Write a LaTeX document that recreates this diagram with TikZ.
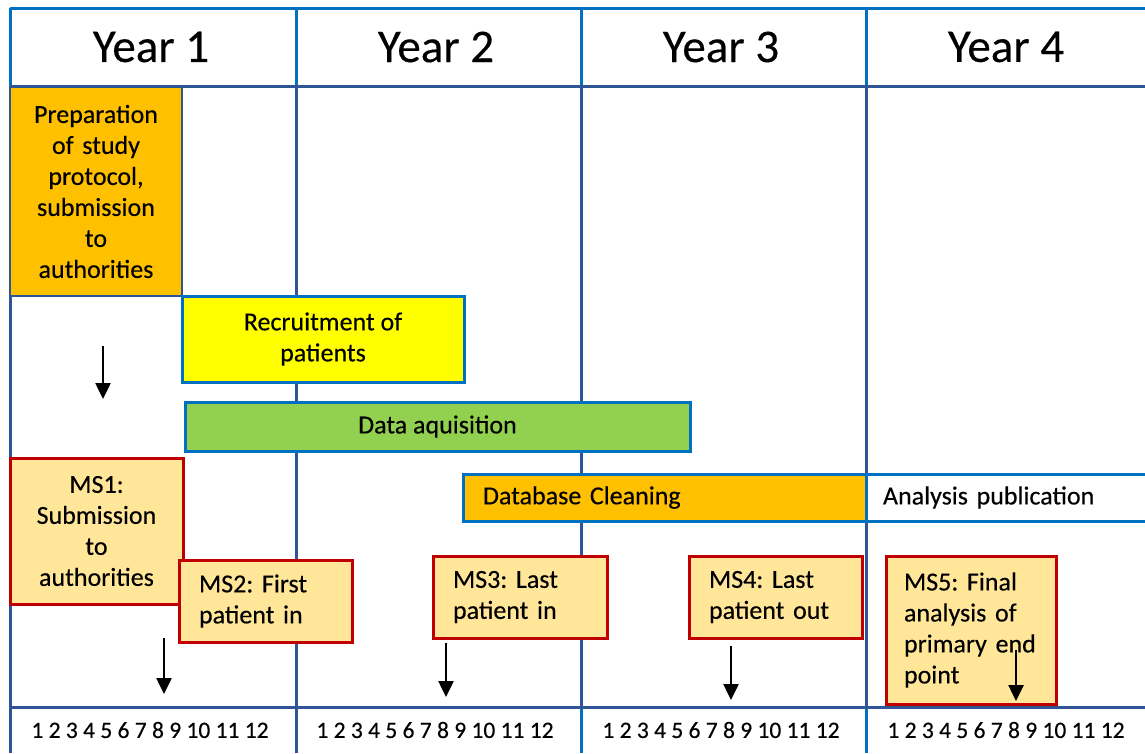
\documentclass[tikz,border=0pt]{standalone}
\usepackage{fontspec}
\setmainfont{Carlito}[FakeBold=0.3]
\usetikzlibrary{arrows.meta}
\definecolor{hdrblue}{HTML}{0070C0}
\definecolor{gridblue}{HTML}{2F5597}
\definecolor{orangefill}{HTML}{FFC000}
\definecolor{yellowfill}{HTML}{FFFF00}
\definecolor{greenfill}{HTML}{92D050}
\definecolor{msfill}{HTML}{FFE699}
\definecolor{msred}{HTML}{C00000}
\newcommand\myBody{\fontsize{26}{31}\selectfont\frenchspacing}
\newcommand\myHead{\fontsize{47}{52}\selectfont}
\newcommand\myNum{\fontsize{23.5}{26}\selectfont}
\begin{document}
\begin{tikzpicture}[x=1pt,y=-1pt,
  hdrline/.style={draw=hdrblue, line width=3pt},
  gridline/.style={draw=gridblue, line width=3pt},
  bar/.style={draw=hdrblue, line width=3pt, inner sep=0pt, font=\myBody},
  ms/.style={draw=msred, fill=msfill, line width=3pt, inner ysep=0pt, inner xsep=20pt, font=\myBody},
  yearlabel/.style={font=\myHead, inner sep=0pt},
  numlabel/.style={font=\myNum, inner sep=0pt},
  msarrow/.style={line width=2.5pt, -{Triangle[width=15pt,length=16pt]}}]
\useasboundingbox (0,0) rectangle (1145,753);
\clip (0,0) rectangle (1145,753);
\fill[white] (0,0) rectangle (1145,753);

% grid
\draw[hdrline] (10,8) -- (1150,8);
\foreach \x in {10,296,581,866} {
  \draw[hdrline] (\x,8) -- (\x,86);
  \draw[gridline] (\x,86) -- (\x,707);
}
\draw[gridline] (10,707) -- (10,753);
\draw[gridline] (296,707) -- (296,753);
\draw[hdrline] (581,707) -- (581,753);
\draw[hdrline] (866,707) -- (866,753);
\draw[gridline] (10,86) -- (1150,86);
\draw[gridline] (10,707) -- (1150,707);

% header
\node[yearlabel] (y1) at (151,47) {Year 1};
\node[yearlabel] (y2) at (436,47) {Year 2};
\node[yearlabel] (y3) at (721,47) {Year 3};
\node[yearlabel] (y4) at (1006,47) {Year 4};

% months
\node[numlabel] (m1) at (150,730) {1 2 3 4 5 6 7 8 9 10 11 12};
\node[numlabel] (m2) at (435,730) {1 2 3 4 5 6 7 8 9 10 11 12};
\node[numlabel] (m3) at (721,730) {1 2 3 4 5 6 7 8 9 10 11 12};
\node[numlabel] (m4) at (1006,730) {1 2 3 4 5 6 7 8 9 10 11 12};

% task bars
\node[draw=gridblue, line width=1.2pt, fill=orangefill, font=\myBody, inner sep=0pt,
  minimum width=172pt, minimum height=209pt, text width=165pt, align=center]
  (prep) at (96,191.5) {Preparation\\of study\\protocol,\\submission\\to\\authorities};
\node[bar, fill=yellowfill, minimum width=282pt, minimum height=86pt, align=center]
  (recr) at (323,339) {Recruitment of\\patients};
\node[bar, fill=greenfill, minimum width=505pt, minimum height=49pt]
  (data) at (437.5,426.5) {Data aquisition};
\node[bar, fill=orangefill, minimum height=47pt, text width=363pt, inner xsep=20pt, align=left]
  (clean) at (664.5,497.5) {Database Cleaning};
\node[bar, fill=white, minimum height=47pt, text width=300pt, inner xsep=17pt, align=left]
  (anal) at (1033,497.5) {Analysis publication};

% milestones
\node[ms, minimum width=173pt, minimum height=146pt, text width=163pt, inner xsep=5pt, align=center]
  (ms1) at (96.5,531) {MS1:\\Submission\\to\\authorities};
\node[ms, minimum height=82pt, text width=133pt, align=left]
  (ms2) at (265.5,601) {MS2: First\\patient in};
\node[ms, minimum height=82pt, text width=134pt, align=left]
  (ms3) at (520,597) {MS3: Last\\patient in};
\node[ms, minimum height=82pt, text width=133pt, align=left]
  (ms4) at (775.5,597) {MS4: Last\\patient out};
\node[ms, minimum height=148pt, text width=134pt, inner xsep=18pt, align=left]
  (ms5) at (971,630) {MS5: Final\\analysis of\\primary end\\point};

% arrows
\coordinate (a1s) at (103,346); \coordinate (a1e) at (103,399);
\coordinate (a2s) at (164,638); \coordinate (a2e) at (164,694);
\coordinate (a3s) at (446,643); \coordinate (a3e) at (446,697);
\coordinate (a4s) at (731,646); \coordinate (a4e) at (731,700);
\coordinate (a5s) at (1016,650); \coordinate (a5e) at (1016,701);
\draw[msarrow] (a1s) -- (a1e);
\draw[msarrow] (a2s) -- (a2e);
\draw[msarrow] (a3s) -- (a3e);
\draw[msarrow] (a4s) -- (a4e);
\draw[msarrow] (a5s) -- (a5e);
\end{tikzpicture}
\end{document}
